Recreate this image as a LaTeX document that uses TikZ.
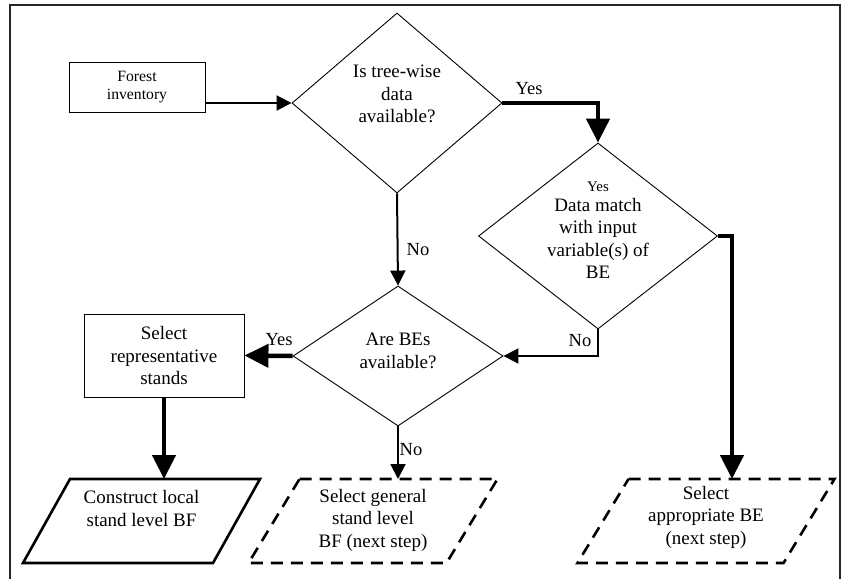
\documentclass[tikz,border=0pt]{standalone}
\usepackage{fontspec}
\setmainfont{Liberation Serif}
\usetikzlibrary{arrows.meta,shapes.geometric,calc}
\begin{document}
\begin{tikzpicture}[x=1pt,y=-1pt,
  txt/.style={align=center, font=\fontsize{19}{22.5}\selectfont, inner sep=0pt},
  dia/.style={draw, diamond, inner sep=0pt, line width=0.9pt},
  rbox/.style={draw, rectangle, line width=0.9pt, inner sep=0pt},
  ghost/.style={rectangle, inner sep=0pt, outer sep=0pt},
  para/.style={line width=2.6pt, line join=miter},
  dpara/.style={para, dash pattern=on 12pt off 8pt},
  thinarr/.style={line width=2pt, -{Triangle[length=15pt,width=15pt]}},
  thickarr/.style={line width=4.5pt, -{Triangle[length=24pt,width=23pt]}},
  lbl/.style={font=\fontsize{18.5}{20}\selectfont, inner sep=0pt}
]
\useasboundingbox (0,0) rectangle (845,578);
\draw[line width=2.5pt, black!85] (10,590) -- (10,5) -- (840,5) -- (840,590);

% nodes
\node[rbox, minimum width=136, minimum height=50, align=center,
      font=\fontsize{15.7}{18}\selectfont] (fi) at (137,87) {Forest\\inventory};
\node[dia, minimum width=210, minimum height=180] (d1) at (397,103) {};
\node[txt] (t1) at (397,94) {Is tree-wise\\data\\available?};
\node[dia, minimum width=239, minimum height=186] (d2) at (598,236) {};
\node[txt] (t2) at (598,238.5) {Data match\\with input\\variable(s) of\\BE};
\node[font=\fontsize{14.8}{16}\selectfont, inner sep=0pt] (t2y) at (598,186.5) {Yes};
\node[dia, minimum width=210, minimum height=140] (d3) at (398,356) {};
\node[txt] (t3) at (398,351) {Are BEs\\available?};
\node[rbox, txt, minimum width=160, minimum height=83] (b2) at (164,355.5) {Select\\representative\\stands};

% parallelograms
\node[ghost, minimum width=190, minimum height=84] (p1) at (141.5,521) {};
\node[txt] (tp1) at (141.5,508.5) {Construct local\\stand level BF};
\draw[para] ([xshift=23.5pt]p1.north west) -- ([xshift=23.5pt]p1.north east)
  -- ([xshift=-23.5pt]p1.south east) -- ([xshift=-23.5pt]p1.south west) -- cycle;
\node[ghost, minimum width=198, minimum height=84] (p2) at (373,521) {};
\node[txt] (tp2) at (373,520) {Select general\\stand level\\BF (next step)};
\draw[dpara] ([xshift=25.5pt]p2.north west) -- ([xshift=25.5pt]p2.north east)
  -- ([xshift=-25.5pt]p2.south east) -- ([xshift=-25.5pt]p2.south west) -- cycle;
\node[ghost, minimum width=206, minimum height=84] (p3) at (706,521) {};
\node[txt] (tp3) at (706,517) {Select\\appropriate BE\\(next step)};
\draw[dpara] ([xshift=25.5pt]p3.north west) -- ([xshift=25.5pt]p3.north east)
  -- ([xshift=-25.5pt]p3.south east) -- ([xshift=-25.5pt]p3.south west) -- cycle;
\coordinate (p3in) at ($(p3.north)+(26,0)$);

% connectors
\draw[thinarr] (fi.east |- d1.west) -- (d1.west);
\draw[thickarr] (d1.east) -| (d2.north);
\draw[thinarr] (d1.south) -- (d3.north);
\draw[thickarr] (d2.east) -| (p3in);
\draw[thinarr] (d2.south) |- (d3.east);
\draw[thickarr] (d3.west) -- (b2.east);
\draw[thickarr] (b2.south) -- (b2.south |- p1.north);
\draw[thinarr] (d3.south) -- (d3.south |- p2.north);

% labels
\node[lbl] (l1) at (529,89) {Yes};
\node[lbl] (l2) at (418,250) {No};
\node[lbl] (l3) at (580,341) {No};
\node[lbl] (l4) at (279,340) {Yes};
\node[lbl] (l5) at (411,450) {No};
\end{tikzpicture}
\end{document}
